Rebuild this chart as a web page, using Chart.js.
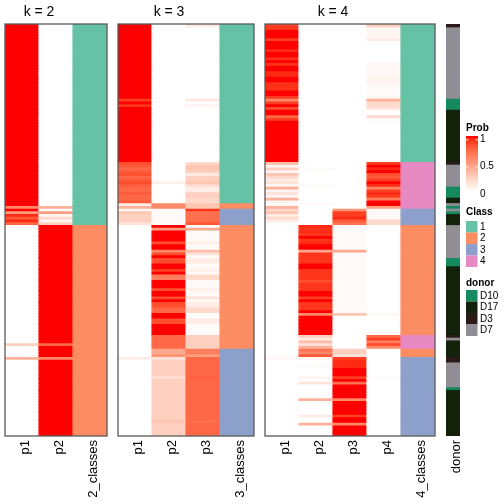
<!DOCTYPE html>
<html>
<head>
<meta charset="utf-8">
<script src="https://cdn.jsdelivr.net/npm/chart.js@4.4.1/dist/chart.umd.min.js"></script>
<style>
html, body { margin: 0; padding: 0; background: #fff; }
#wrap { position: relative; width: 504px; height: 504px; }
#wrap canvas { position: absolute; left: 0; top: 0; }
</style>
</head>
<body>
<div id="wrap">
  <canvas id="k2" width="504" height="504"></canvas>
  <canvas id="k3" width="504" height="504"></canvas>
  <canvas id="k4" width="504" height="504"></canvas>
  <canvas id="don" width="504" height="504"></canvas>
</div>
<script>
// samples (rows), top to bottom; each list = [value, number of rows]
const nRows = 150;

const k2_p1 = [[1,66],[0.6,1],[1,1],[0.5,1],[0.95,1],[0.8,1],[0.95,1],[0.75,1],[0,43],[0.25,1],[0,4],[0.4,1],[0,28]];
const k2_p2 = [[0,66],[0.4,1],[0,1],[0.5,1],[0.05,1],[0.2,1],[0.05,1],[0.25,1],[1,43],[0.75,1],[1,4],[0.6,1],[1,28]];
const k2_class = [[1,73],[2,77]];

const k3_p1 = [[1,27],[0.9,1],[1,1],[0.92,1],[1,20],[0.85,1],[0.8,1],[0.75,1],[0.8,1],[0.85,1],[0.75,1],[0.8,1],[0.85,1],[0.8,1],[0.75,2],[0.8,1],[0.75,2],[0.8,1],
  [0.1,1],[0.4,1],[0.05,1],[0.3,1],[0.25,3],[0.15,1],[0,48],[0.1,1],[0,28]];
const k3_p2 = [[0,57],[0.08,1],[0,7],[0.6,2],[0.03,6],[1,1],[0.5,1],[1,4],[0.85,1],[1,2],[0.6,1],[0.85,1],[1,1],[0.85,2],[1,2],[0.9,1],[1,1],[0.65,2],[1,3],
  [0.85,1],[1,2],[0.85,1],[1,1],[0.85,2],[0.75,2],[1,2],[0.85,2],[1,4],[0.75,5],[0.45,2],[0.55,1],[0.15,1],[0.25,6],[0.18,1],[0.25,15],[0.3,1],[0.25,5]];
const k3_p3 = [[0.1,1],[0,26],[0.12,1],[0,1],[0.05,1],[0,20],[0.2,1],[0.3,2],[0.25,1],[0.1,1],[0.25,2],[0.3,1],[0.2,1],[0.1,2],[0.25,2],[0.2,2],
  [0.3,2],[0.92,1],[0.7,1],[0.72,3],[0.82,1],
  [0,1],[0.45,1],[0.03,4],[0.1,1],[0.03,2],[0.35,1],[0.15,1],[0.03,1],[0.1,2],[0.03,2],[0.08,1],[0.03,1],[0.2,2],[0.03,3],[0.08,1],[0.03,2],[0.15,1],[0.03,1],
  [0.1,2],[0.2,2],[0.02,2],[0.1,2],[0.02,4],[0.25,5],[0.65,2],[0.5,1],[0.75,1],[0.75,6],[0.78,1],[0.75,15],[0.72,1],[0.75,5]];
const k3_class = [[1,65],[2,2],[3,6],[2,45],[3,32]];

const k4_p1 = [[0.9,1],[0.92,1],[1,3],[0.9,1],[1,3],[0.95,1],[1,2],[0.93,1],[1,1],[0.93,1],[1,2],[0.95,2],[1,2],[0.93,3],[1,2],[0.9,1],
  [0.6,1],[0.9,1],[1,1],[0.85,1],[1,2],[0.75,1],[0.9,1],[1,15],
  [0.35,1],[0.05,1],[0.25,1],[0.05,1],[0.3,1],[0.2,1],[0.1,1],[0.15,1],[0.05,1],[0.4,1],[0.05,1],[0.15,1],[0.05,1],[0.4,1],[0.05,1],[0.02,1],
  [0.4,1],[0.2,1],[0.3,1],[0.1,1],[0.2,1],[0.1,1],[0.02,1],[0,48],[0.04,1],[0,28]];
const k4_p2 = [[0,52],[0.03,1],[0,5],[0.03,1],[0,6],[0.03,1],[0,7],
  [0.95,1],[0.92,1],[0.95,1],[0.92,1],[1,1],[0.92,1],[0.95,1],[1,2],[0.45,1],[0.92,4],[1,2],[0.92,4],[0.85,1],[0.92,3],[1,2],[0.9,1],[1,1],[0.92,3],[1,1],[0.6,1],[1,7],
  [0.25,1],[0.1,1],[0.35,1],[0.15,1],[0.4,1],[0.7,1],[0.6,1],[0.8,1],
  [0.05,1],[0,2],[0.03,1],[0,3],[0.05,1],[0,1],[0.15,1],[0,5],[0.4,1],[0,5],[0.1,1],[0,2],[0.4,1],[0,4]];
const k4_p3 = [[0,67],[0.55,1],[0.9,2],[0.95,1],[0.8,1],[0.7,1],
  [0.03,9],[0.45,1],[0.03,22],[0.3,1],[0,12],[0.25,2],[0.15,1],[0.9,1],[0.95,3],[1,3],[0.9,1],[1,1],[0.7,1],[1,5],[0.6,1],[1,5],[0.9,1],[1,2],[0.6,1],[1,4]];
const k4_p4 = [[0.25,1],[0.05,4],[0.1,1],[0,8],[0.04,4],[0.06,4],[0.02,4],[0.05,1],[0.4,1],[0.2,2],[0.15,1],[0,2],[0.2,1],[0.03,1],[0,15],
  [0.9,1],[1,1],[0.95,1],[1,1],[0.85,1],[0.8,1],[0.9,1],[1,1],[0.95,1],[0.6,1],[0.9,1],[0.95,1],[0.9,1],[0.65,1],[1,2],[0.5,1],[0.03,4],[0.2,2],
  [0,32],[0.03,1],[0,7],[0.75,1],[0.9,1],[0.65,1],[0.85,1],[0.6,1],[0,10],[0.02,1],[0,21]];
const k4_class = [[1,50],[4,17],[3,6],[2,40],[4,5],[2,3],[3,29]];

const donor = [["D3",1],["D7",26],["D10",4],["D17",19],["D3",1],["D7",8],["D10",4],["D17",2],["D7",1],["D10",1],["D7",1],["D10",1],["D17",4],
  ["D7",12],["D10",3],["D17",25],["D3",1],["D7",1],["D17",6],["D3",2],["D7",9],["D10",1],["D17",17]];

const classNames = ["1", "2", "3", "4"];
const classColors = { 1: "#66C2A5", 2: "#FC8D62", 3: "#8DA0CB", 4: "#E78AC3" };
const donorNames = ["D10", "D17", "D3", "D7"];
const donorColors = { D10: "#158A5E", D17: "#14220B", D3: "#2B1A17", D7: "#918D94" };
const probTicks = [1, 0.5, 0];

const FONT = "'Liberation Sans', Arial, Helvetica, sans-serif";

// run lengths -> one value per row
function expand(runs) {
    const out = [];
    for (const [v, n] of runs) for (let i = 0; i < n; i++) out.push(v);
    return out;
}

// white -> red, mixed in LAB like colorRamp2
function probColor(v) {
    const L = 100 + (53.24 - 100) * v, A = 80.09 * v, B = 67.2 * v;
    const fy = (L + 16) / 116, fx = fy + A / 500, fz = fy - B / 200;
    const inv = t => (t * t * t > 0.008856 ? t * t * t : (t - 16 / 116) / 7.787);
    const X = 0.95047 * inv(fx), Y = inv(fy), Z = 1.08883 * inv(fz);
    let rgb = [3.2406 * X - 1.5372 * Y - 0.4986 * Z, -0.9689 * X + 1.8758 * Y + 0.0415 * Z, 0.0557 * X - 0.2040 * Y + 1.0570 * Z];
    rgb = rgb.map(c => {
        c = c <= 0.0031308 ? 12.92 * c : 1.055 * Math.pow(c, 1 / 2.4) - 0.055;
        return Math.round(Math.min(1, Math.max(0, c)) * 255);
    });
    return `rgb(${rgb[0]},${rgb[1]},${rgb[2]})`;
}

// one stacked dataset per row, one bar per column
function rowDatasets(colorCols) {
    const sets = [];
    for (let r = 0; r < nRows; r++) {
        sets.push({
            data: colorCols.map(() => 1),
            backgroundColor: colorCols.map(c => c[r]),
            borderWidth: 0,
            inflateAmount: 0.6,
            barPercentage: 1,
            categoryPercentage: 1
        });
    }
    return sets;
}

const panelPlugin = {
    id: "panel",
    afterDatasetsDraw(chart, args, opts) {
        const ctx = chart.ctx, a = chart.chartArea, x = chart.scales.x;
        ctx.save();
        if (opts.border) {
            ctx.strokeStyle = "#5a5a5a";
            ctx.lineWidth = 1.3;
            ctx.strokeRect(a.left, a.top, a.right - a.left, a.bottom - a.top);
        }
        if (opts.title) {
            const cx = (x.getPixelForValue(0) + x.getPixelForValue(opts.nProb - 1)) / 2;
            ctx.fillStyle = "#000";
            ctx.font = "14px " + FONT;
            ctx.textAlign = "center";
            ctx.textBaseline = "alphabetic";
            ctx.fillText(opts.title, cx, 15.5);
        }
        if (opts.legend) drawLegends(ctx);
        ctx.restore();
    }
};

function drawLegends(ctx) {
    ctx.fillStyle = "#000";
    ctx.textAlign = "left";
    // Prob colour bar
    ctx.font = "bold 10px " + FONT;
    ctx.textBaseline = "alphabetic";
    ctx.fillText("Prob", 466, 131);
    const top = 136, h = 56;
    for (let i = 0; i < h; i++) {
        ctx.fillStyle = probColor(1 - i / (h - 1));
        ctx.fillRect(466, top + i, 12, 1);
    }
    ctx.font = "10px " + FONT;
    ctx.textBaseline = "middle";
    const tickY = [139.7, 166.7, 194.7];
    probTicks.forEach((t, i) => {
        if (i < 2) {
            ctx.fillStyle = "rgba(255,255,255,0.8)";
            ctx.fillRect(466, tickY[i] - 0.5, 2.5, 1);
            ctx.fillRect(475.5, tickY[i] - 0.5, 2.5, 1);
        }
        ctx.fillStyle = "#000";
        ctx.fillText(String(t), 480, tickY[i]);
    });
    // Class
    ctx.font = "bold 10px " + FONT;
    ctx.textBaseline = "alphabetic";
    ctx.fillText("Class", 466, 215);
    ctx.font = "10px " + FONT;
    ctx.textBaseline = "middle";
    classNames.forEach((c, i) => {
        const y = 221 + i * 11.5;
        ctx.fillStyle = classColors[c];
        ctx.fillRect(466, y, 11.5, 11.5);
        ctx.fillStyle = "#000";
        ctx.fillText(c, 480, y + 6);
    });
    // donor
    ctx.font = "bold 10px " + FONT;
    ctx.textBaseline = "alphabetic";
    ctx.fillText("donor", 466, 286);
    ctx.font = "10px " + FONT;
    ctx.textBaseline = "middle";
    donorNames.forEach((d, i) => {
        const y = 290 + i * 11.5;
        ctx.fillStyle = donorColors[d];
        ctx.fillRect(466, y, 11.5, 11.5);
        ctx.fillStyle = "#000";
        ctx.fillText(d, 480, y + 6);
    });
}

function makeChart(id, labels, colorCols, left, right, panelOpts) {
    return new Chart(document.getElementById(id), {
        type: "bar",
        data: { labels: labels, datasets: rowDatasets(colorCols) },
        options: {
            responsive: false,
            animation: false,
            devicePixelRatio: 1,
            layout: { padding: { left: left, right: 504 - right, top: 24, bottom: 0 } },
            plugins: { legend: { display: false }, tooltip: { enabled: false }, panel: panelOpts },
            scales: {
                x: {
                    stacked: true,
                    grid: { display: false, drawTicks: false },
                    border: { display: false },
                    ticks: {
                        autoSkip: false, maxRotation: 90, minRotation: 90, padding: 4, labelOffset: 3,
                        color: "#000", font: { family: FONT, size: 13 }
                    },
                    afterFit: s => { s.height = 68; }
                },
                y: { stacked: true, reverse: true, min: 0, max: nRows, display: false }
            }
        },
        plugins: [panelPlugin]
    });
}

const probCol = runs => expand(runs).map(probColor);
const classCol = runs => expand(runs).map(c => classColors[c]);

makeChart("k2", ["p1", "p2", "2_classes"],
    [probCol(k2_p1), probCol(k2_p2), classCol(k2_class)], 5, 107,
    { border: true, title: "k = 2", nProb: 2 });

makeChart("k3", ["p1", "p2", "p3", "3_classes"],
    [probCol(k3_p1), probCol(k3_p2), probCol(k3_p3), classCol(k3_class)], 118, 254,
    { border: true, title: "k = 3", nProb: 3 });

makeChart("k4", ["p1", "p2", "p3", "p4", "4_classes"],
    [probCol(k4_p1), probCol(k4_p2), probCol(k4_p3), probCol(k4_p4), classCol(k4_class)], 265, 435,
    { border: true, title: "k = 4", nProb: 4 });

makeChart("don", ["donor"],
    [expand(donor).map(d => donorColors[d])], 446, 460,
    { border: false, legend: true });
</script>
</body>
</html>
